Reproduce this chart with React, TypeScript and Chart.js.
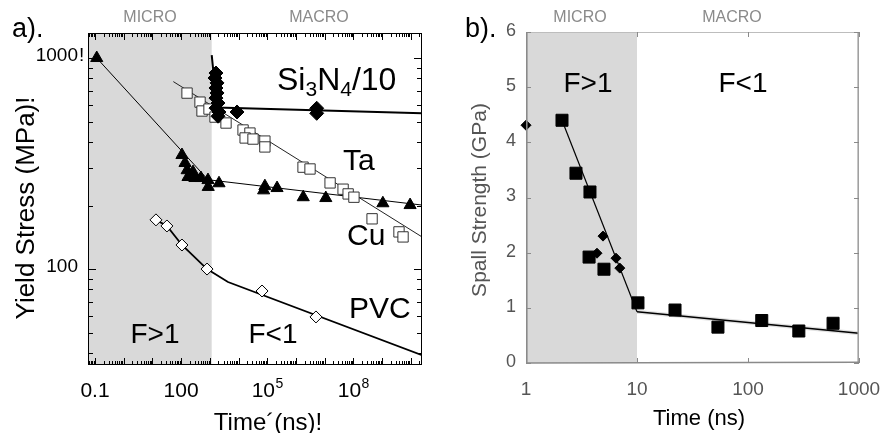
import { useEffect, useRef } from "react";
import { Chart, registerables } from "chart.js";

Chart.register(...registerables);

// ---------------- Panel a) Yield stress (MPa) vs time (ns), log-log ----------------
const trianglesTime = [0.115, 107, 137, 162, 259, 174, 303, 490, 863, 880, 2090, 83000, 75000, 220000, 1.8e6, 1.1e7, 1.07e9, 9.5e9];
const trianglesStress = [1000, 347, 318, 294, 288, 273, 270, 270, 264, 245, 255, 247, 236, 242, 219, 217, 205, 201];
const triangleFitTime = [0.115, 865, 2.47e10];
const triangleFitStress = [1000, 265, 201];

const squaresTime = [161, 456, 535, 938, 1520, 3670, 14400, 25000, 17000, 32000, 83000, 83000, 1.77e6, 3.1e6, 1.55e7, 4.4e7, 6.6e7, 1.05e8];
const squaresStress = [682, 618, 561, 573, 525, 492, 456, 441, 418, 413, 404, 379, 304, 298, 256, 239, 227, 219];
const cuTime = [4.5e8, 3.9e9, 5.4e9];
const cuStress = [173, 150, 142];
const squareFitTime = [53.6, 2.47e10];
const squareFitStress = [773, 142];

const si3n4Time = [1640, 1520, 1780, 1640, 1780, 1640, 1930, 1640, 2090, 1930, 8870, 5.3e6, 5.3e6];
const si3n4Stress = [849, 804, 762, 721, 683, 646, 612, 579, 555, 530, 555, 578, 547];
const si3n4FitTime = [1165, 1780, 2.47e10];
const si3n4FitStress = [1033, 583, 548];

const pvcTime = [13.3, 32, 107, 800, 66000, 5.0e6];
const pvcStress = [171, 160, 130, 100, 78.7, 59.3];
const pvcFitTime = [13.3, 32, 107, 800, 4300, 2.47e10];
const pvcFitStress = [171, 160, 130, 100, 86.8, 39.1];

const microLimitA = 1160;
const timeRangeA = [0.057, 2.47e10];
const stressRangeA = [35.1, 1314];
const xTickValuesA = [0.1, 100, 1e5, 1e8];
const xTickBaseA = ["0.1", "100", "10", "10"];
const xTickExpA = ["", "", "5", "8"];
const yTickValuesA = [100, 1000];
const yTickLabelsA = ["100", "1000!"];

// ---------------- Panel b) Spall strength (GPa) vs time (ns) ----------------
const spallSquaresTime = [2.11, 2.82, 3.77, 3.7, 5.04, 10.2, 22, 53.6, 133, 287, 584];
const spallSquares = [4.4, 3.44, 3.1, 1.92, 1.7, 1.09, 0.96, 0.65, 0.77, 0.58, 0.72];
const spallDiamondsTime = [1, 4.36, 4.94, 6.47, 7.0];
const spallDiamonds = [4.31, 1.99, 2.3, 1.9, 1.72];
const spallFitSteepTime = [2.11, 10];
const spallFitSteep = [4.4, 0.93];
const spallFitFlatTime = [10, 1000];
const spallFitFlat = [0.93, 0.54];

const microLimitB = 10;
const timeRangeB = [1, 1000];
const spallRangeB = [0, 6];
const xTickValuesB = [1, 10, 100, 1000];
const xTickLabelsB = ["1", "10", "100", "1000"];
const yTickValuesB = [0, 1, 2, 3, 4, 5, 6];
const yTickLabelsB = ["0", "1", "2", "3", "4", "5", "6"];

// ---------------- helpers ----------------
const SANS = '"Liberation Sans", Arial, Helvetica, sans-serif';
const SHADE = "#d9d9d9";

const pts = (xs: number[], ys: number[]) => xs.map((x, i) => ({ x, y: ys[i] }));

function text(ctx: CanvasRenderingContext2D, s: string, x: number, y: number, size: number, color = "#000", align: CanvasTextAlign = "left", baseline: CanvasTextBaseline = "alphabetic") {
  ctx.save();
  ctx.font = `${size}px ${SANS}`;
  ctx.fillStyle = color;
  ctx.textAlign = align;
  ctx.textBaseline = baseline;
  ctx.fillText(s, x, y);
  ctx.restore();
}

function rotatedText(ctx: CanvasRenderingContext2D, s: string, cx: number, cy: number, size: number, color = "#000") {
  ctx.save();
  ctx.translate(cx, cy);
  ctx.rotate(-Math.PI / 2);
  ctx.font = `${size}px ${SANS}`;
  ctx.fillStyle = color;
  ctx.textAlign = "center";
  ctx.textBaseline = "middle";
  ctx.fillText(s, 0, 0);
  ctx.restore();
}

function logTickValues(min: number, max: number) {
  const out: { v: number; major: boolean }[] = [];
  for (let k = Math.floor(Math.log10(min)); k <= Math.ceil(Math.log10(max)); k++) {
    for (let m = 1; m <= 9; m++) {
      const v = m * Math.pow(10, k);
      if (v >= min * 0.9999 && v <= max * 1.0001) out.push({ v, major: m === 1 });
    }
  }
  return out;
}

const markerSet = (data: { x: number; y: number }[], style: string, radius: number, fill: string, border: string) => ({
  data,
  showLine: false,
  pointStyle: style,
  pointRadius: radius,
  pointBackgroundColor: fill,
  pointBorderColor: border,
  pointBorderWidth: 1,
  clip: false as any,
  order: 0,
});

const lineSet = (data: { x: number; y: number }[], width: number, color = "#000") => ({
  data,
  showLine: true,
  borderColor: color,
  borderWidth: width,
  pointRadius: 0,
  tension: 0,
  order: 1,
});

// ---------------- panel a plugin ----------------
const panelAPlugin = {
  id: "panelA",
  beforeDatasetsDraw(chart: any) {
    const { ctx, chartArea: a, scales } = chart;
    const xe = scales.x.getPixelForValue(microLimitA);
    ctx.save();
    ctx.fillStyle = SHADE;
    ctx.fillRect(a.left, a.top, xe - a.left, a.bottom - a.top);
    ctx.restore();
  },
  afterDraw(chart: any) {
    const { ctx, chartArea: a, scales } = chart;
    const x = scales.x, y = scales.y;
    ctx.save();
    ctx.strokeStyle = "#000";
    ctx.lineWidth = 1;
    ctx.strokeRect(a.left + 0.5, a.top + 0.5, a.right - a.left - 1, a.bottom - a.top - 1);
    ctx.beginPath();
    for (const t of logTickValues(x.min, x.max)) {
      const px = Math.round(x.getPixelForValue(t.v)) + 0.5;
      const len = t.major ? 7 : 4;
      ctx.moveTo(px, a.bottom); ctx.lineTo(px, a.bottom - len);
      ctx.moveTo(px, a.top); ctx.lineTo(px, a.top + len);
    }
    for (const t of logTickValues(y.min, y.max)) {
      const py = Math.round(y.getPixelForValue(t.v)) + 0.5;
      const len = t.major ? 8 : 5;
      ctx.moveTo(a.left, py); ctx.lineTo(a.left + len, py);
      ctx.moveTo(a.right, py); ctx.lineTo(a.right - len, py);
    }
    ctx.stroke();
    ctx.restore();

    // x tick labels
    xTickValuesA.forEach((v, i) => {
      const px = x.getPixelForValue(v);
      const base = xTickBaseA[i], exp = xTickExpA[i];
      ctx.save();
      ctx.font = `21px ${SANS}`;
      const wb = ctx.measureText(base).width;
      ctx.font = `14px ${SANS}`;
      const we = exp ? ctx.measureText(exp).width : 0;
      ctx.restore();
      const x0 = px - (wb + we) / 2;
      text(ctx, base, x0, a.bottom + 32, 21);
      if (exp) text(ctx, exp, x0 + wb + 0.5, a.bottom + 23, 14);
    });
    // y tick labels
    yTickValuesA.forEach((v, i) => {
      const py = y.getPixelForValue(v) - 2;
      const lab = yTickLabelsA[i];
      const num = lab.replace(/!$/, "");
      text(ctx, num, a.left - 10, py, 19, "#000", "right", "middle");
      if (num !== lab) text(ctx, "!", a.left - 9, py, 19, "#000", "left", "middle");
    });

    // titles
    rotatedText(ctx, "Yield Stress (MPa)!", 27, 208, 26);
    text(ctx, "Time´(ns)!", 268, 430, 24, "#000", "center");
    text(ctx, "a).", 12, 37, 27);
    text(ctx, "MICRO", 150, 22, 16, "#8a8a8a", "center");
    text(ctx, "MACRO", 319, 22, 16, "#8a8a8a", "center");
    text(ctx, "F>1", 155, 343, 28, "#000", "center");
    text(ctx, "F<1", 273, 343, 28, "#000", "center");
    // Si3N4/10 with subscripts
    ctx.save();
    let cx = 277;
    const segs: [string, boolean][] = [["Si", false], ["3", true], ["N", false], ["4", true], ["/10", false]];
    for (const [s, sub] of segs) {
      const size = sub ? 21 : 32;
      ctx.font = `${size}px ${SANS}`;
      ctx.fillStyle = "#000";
      ctx.fillText(s, cx, sub ? 96 : 90);
      cx += ctx.measureText(s).width;
    }
    ctx.restore();
    text(ctx, "Ta", 343, 170, 30);
    text(ctx, "Cu", 347, 245, 30);
    text(ctx, "PVC", 349, 318, 30);
  },
};

// ---------------- panel b plugin ----------------
const panelBPlugin = {
  id: "panelB",
  beforeDatasetsDraw(chart: any) {
    const { ctx, chartArea: a, scales } = chart;
    const xe = scales.x.getPixelForValue(microLimitB);
    ctx.save();
    ctx.fillStyle = SHADE;
    ctx.fillRect(a.left, a.top, xe - a.left, a.bottom - a.top);
    ctx.restore();
  },
  afterDraw(chart: any) {
    const { ctx, chartArea: a, scales } = chart;
    const x = scales.x, y = scales.y;
    ctx.save();
    // frame
    ctx.lineWidth = 1;
    ctx.strokeStyle = "#bdbdbd";
    ctx.beginPath(); ctx.moveTo(a.left, a.top + 0.5); ctx.lineTo(a.right, a.top + 0.5); ctx.stroke();
    ctx.lineWidth = 1.6;
    ctx.strokeStyle = "#a0a0a0";
    ctx.beginPath(); ctx.moveTo(a.right - 0.8, a.top); ctx.lineTo(a.right - 0.8, a.bottom); ctx.stroke();
    ctx.strokeStyle = "#8a8a8a";
    ctx.beginPath(); ctx.moveTo(a.left + 0.8, a.top); ctx.lineTo(a.left + 0.8, a.bottom); ctx.lineTo(a.right, a.bottom - 0.8); ctx.stroke();
    // ticks
    ctx.lineWidth = 1;
    ctx.strokeStyle = "#8a8a8a";
    ctx.beginPath();
    for (const v of yTickValuesB) {
      const py = Math.round(y.getPixelForValue(v)) + 0.5;
      ctx.moveTo(a.left, py); ctx.lineTo(a.left + 5, py);
      ctx.moveTo(a.right, py); ctx.lineTo(a.right - 5, py);
    }
    for (const v of xTickValuesB) {
      const px = Math.round(x.getPixelForValue(v)) + 0.5;
      ctx.moveTo(px, a.bottom); ctx.lineTo(px, a.bottom - 5);
      ctx.moveTo(px, a.top); ctx.lineTo(px, a.top + 5);
    }
    ctx.stroke();
    ctx.restore();

    yTickValuesB.forEach((v, i) => {
      const py = Math.max(y.getPixelForValue(v) - 1, a.top - 4);
      text(ctx, yTickLabelsB[i], a.left - 10, py, 18, "#555", "right", "middle");
    });
    xTickValuesB.forEach((v, i) => {
      text(ctx, xTickLabelsB[i], x.getPixelForValue(v), a.bottom + 32, 19, "#555", "center");
    });
    rotatedText(ctx, "Spall Strength (GPa)", 40, 200, 21, "#555");
    text(ctx, "Time (ns)", 259, 425, 22, "#000", "center");
    text(ctx, "b).", 25, 37, 27);
    text(ctx, "MICRO", 140, 22, 16, "#8a8a8a", "center");
    text(ctx, "MACRO", 292, 22, 16, "#8a8a8a", "center");
    text(ctx, "F>1", 148, 92, 28, "#000", "center");
    text(ctx, "F<1", 303, 92, 28, "#000", "center");
  },
};

function makeConfigA(): any {
  return {
    type: "scatter",
    data: {
      datasets: [
        markerSet(pts(trianglesTime, trianglesStress), "triangle", 7, "#000", "#000"),
        markerSet(pts(si3n4Time, si3n4Stress), "rectRot", 7, "#000", "#000"),
        markerSet(pts(squaresTime, squaresStress), "rect", 7.3, "#fff", "#333"),
        markerSet(pts(cuTime, cuStress), "rect", 7.3, "#fff", "#333"),
        markerSet(pts(pvcTime, pvcStress), "rectRot", 6, "#fff", "#000"),
        lineSet(pts(triangleFitTime, triangleFitStress), 1),
        lineSet(pts(squareFitTime, squareFitStress), 1, "#222"),
        lineSet(pts(si3n4FitTime, si3n4FitStress), 2),
        lineSet(pts(pvcFitTime, pvcFitStress), 1.8),
      ],
    },
    options: {
      animation: false,
      responsive: false,
      maintainAspectRatio: false,
      events: [],
      layout: { padding: { left: 88, right: 18, top: 33, bottom: 68 } },
      plugins: { legend: { display: false }, tooltip: { enabled: false } },
      scales: {
        x: { type: "logarithmic", min: timeRangeA[0], max: timeRangeA[1], display: false },
        y: { type: "logarithmic", min: stressRangeA[0], max: stressRangeA[1], display: false },
      },
    },
    plugins: [panelAPlugin],
  };
}

function makeConfigB(): any {
  return {
    type: "scatter",
    data: {
      datasets: [
        markerSet(pts(spallDiamondsTime, spallDiamonds), "rectRot", 5, "#000", "#000"),
        markerSet(pts(spallSquaresTime, spallSquares), "rect", 8.5, "#000", "#000"),
        lineSet(pts(spallFitSteepTime, spallFitSteep), 1.2),
        lineSet(pts(spallFitFlatTime, spallFitFlat), 1.4),
        { ...lineSet(pts(spallFitFlatTime, spallFitFlat), 4, "rgba(0,0,0,0.12)"), order: 2 },
      ],
    },
    options: {
      animation: false,
      responsive: false,
      maintainAspectRatio: false,
      events: [],
      layout: { padding: { left: 86, right: 24, top: 32, bottom: 70 } },
      plugins: { legend: { display: false }, tooltip: { enabled: false } },
      scales: {
        x: { type: "logarithmic", min: timeRangeB[0], max: timeRangeB[1], display: false },
        y: { type: "linear", min: spallRangeB[0], max: spallRangeB[1], display: false },
      },
    },
    plugins: [panelBPlugin],
  };
}

function Panel({ make, left, width, height }: { make: () => any; left: number; width: number; height: number }) {
  const ref = useRef<HTMLCanvasElement>(null);
  useEffect(() => {
    const chart = new Chart(ref.current as HTMLCanvasElement, make());
    return () => chart.destroy();
  }, [make]);
  return (
    <canvas
      ref={ref}
      width={width}
      height={height}
      style={{ position: "absolute", left, top: 0, width, height, display: "block" }}
    />
  );
}

export default function App() {
  return (
    <div style={{ position: "fixed", left: 0, top: 0, width: 883, height: 433, background: "#fff", overflow: "hidden" }}>
      <Panel make={makeConfigA} left={0} width={440} height={433} />
      <Panel make={makeConfigB} left={440} width={443} height={433} />
    </div>
  );
}
